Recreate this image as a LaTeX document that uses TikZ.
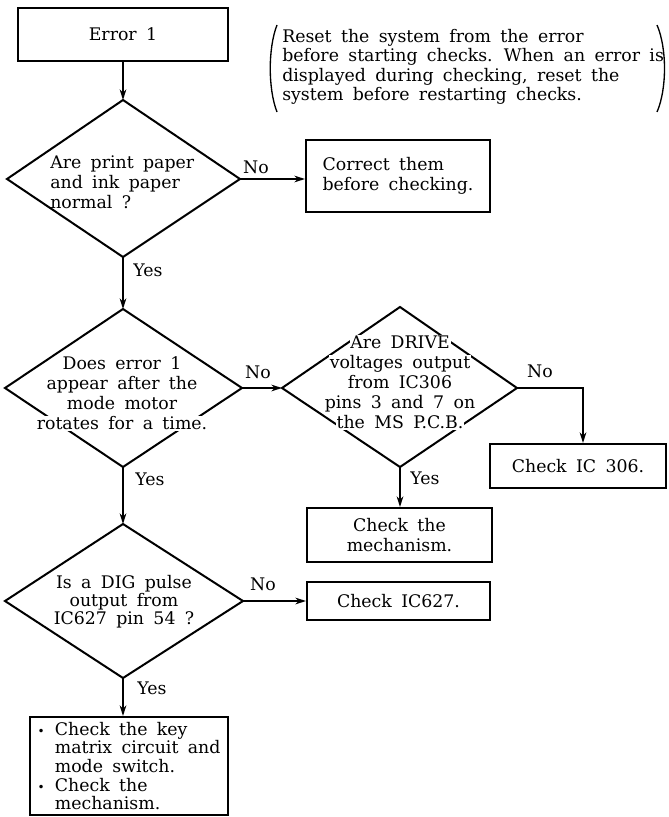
\documentclass[tikz,border=0pt]{standalone}
\usepackage{fontspec}
\setmainfont{DejaVu Serif}[WordSpace=1.7]
\usetikzlibrary{arrows.meta}
\newcommand\wl[1]{\colorbox{white}{#1}}
\begin{document}
\begin{tikzpicture}[x=0.75pt,y=-0.75pt,
  every node/.style={font=\fontsize{13}{15}\selectfont},
  dia/.style={draw,line width=1.5pt,line join=miter},
  box/.style={draw,line width=1.5pt,inner sep=0pt},
  conn/.style={line width=1.1pt,-{Stealth[length=8pt,width=5pt]}},
  plain/.style={line width=1.1pt},
  lbl/.style={inner sep=0pt},
  qtxt/.style={inner sep=0pt,align=center},
  paren/.style={line width=1pt}
]
\setlength\fboxsep{0.6pt}
\useasboundingbox (0,0) rectangle (668,817);

% boxes
\node[box,minimum width=157.5pt,minimum height=39.75pt] (err) at (123,34.5) {Error 1};
\node[box,minimum width=138pt,minimum height=54pt,align=left] (corr) at (398,176) {Correct them\\before checking.};
\node[box,minimum width=132pt,minimum height=33pt] (ic306) at (578,466) {Check IC 306.};
\node[box,minimum width=138.75pt,minimum height=40.5pt,align=center] (mech) at (399.5,535) {Check the\\mechanism.};
\node[box,minimum width=137.25pt,minimum height=28.5pt] (ic627) at (398.5,601) {Check IC627.};
\node[box,minimum width=148.5pt,minimum height=73.5pt,align=left,font=\fontsize{13}{14}\selectfont] (keys) at (129,766)
 {\makebox[1em][l]{\small •}Check the key\\
  \hspace*{1em}matrix circuit and\\
  \hspace*{1em}mode switch.\\
  \makebox[1em][l]{\small •}Check the\\
  \hspace*{1em}mechanism.};

% note
\node[anchor=north west,inner sep=0pt,align=left,font=\fontsize{13}{14.5}\selectfont] (note) at (282,29)
 {Reset the system from the error\\
  before starting checks. When an error is\\
  displayed during checking, reset the\\
  system before restarting checks.};
\draw[paren] (277,25) .. controls (268,48) and (268,89) .. (277,112);
\draw[paren] (657,25) .. controls (667,48) and (667,89) .. (657,112);

% diamond 1
\coordinate (d1t) at (123,100); \coordinate (d1r) at (240,179);
\coordinate (d1b) at (123,257); \coordinate (d1l) at (7,179);
\draw[dia] (d1t) -- (d1r) -- (d1b) -- (d1l) -- cycle;
\node[inner sep=0pt,align=left,anchor=west] (q1) at (50,182) {Are print paper\\and ink paper\\normal ?};

% diamond 2
\coordinate (d2t) at (123,309); \coordinate (d2r) at (242,388);
\coordinate (d2b) at (123,467); \coordinate (d2l) at (5,388);
\draw[dia] (d2t) -- (d2r) -- (d2b) -- (d2l) -- cycle;
\node[qtxt] (q2) at (122,393.5) {\wl{Does error 1}\\\wl{appear after the}\\\wl{mode motor}\\\wl{rotates for a time.}};

% diamond 3
\coordinate (d3t) at (400,307); \coordinate (d3r) at (517,388);
\coordinate (d3b) at (400,467); \coordinate (d3l) at (282,388);
\draw[dia] (d3t) -- (d3r) -- (d3b) -- (d3l) -- cycle;
\node[qtxt] (q3) at (400,382.5) {\wl{Are DRIVE}\\\wl{voltages output}\\\wl{from IC306}\\\wl{pins 3 and 7 on}\\\wl{the MS P.C.B.}};

% diamond 4
\coordinate (d4t) at (123,524); \coordinate (d4r) at (243,601);
\coordinate (d4b) at (123,678); \coordinate (d4l) at (5,601);
\draw[dia] (d4t) -- (d4r) -- (d4b) -- (d4l) -- cycle;
\node[qtxt,font=\fontsize{13}{13.5}\selectfont] (q4) at (124,602) {Is a DIG pulse\\output from\\IC627 pin 54 ?};

% connectors
\draw[conn] (err) -- (d1t);
\draw[conn] (d1r) -- (d1r -| corr.west);
\draw[conn] (d1b) -- (d2t);
\draw[conn] (d2r) -- (d3l);
\coordinate (c3) at (583,388);
\draw[conn] (d3r) -- (c3) -- (c3 |- ic306.north);
\draw[conn] (d3b) -- (d3b |- mech.north);
\draw[conn] (d2b) -- (d4t);
\draw[conn] (d4r) -- (d4r -| ic627.west);
\draw[conn] (d4b) -- (d4b |- keys.north);

% labels
\node[lbl] (no1) at (256,167) {No};
\node[lbl] (yes1) at (148,270) {Yes};
\node[lbl] (no2) at (258,372) {No};
\node[lbl] (yes2) at (150,479) {Yes};
\node[lbl] (no3) at (540,371) {No};
\node[lbl] (yes3) at (425,478) {Yes};
\node[lbl] (no4) at (263,584) {No};
\node[lbl] (yes4) at (152,688) {Yes};
\end{tikzpicture}
\end{document}
